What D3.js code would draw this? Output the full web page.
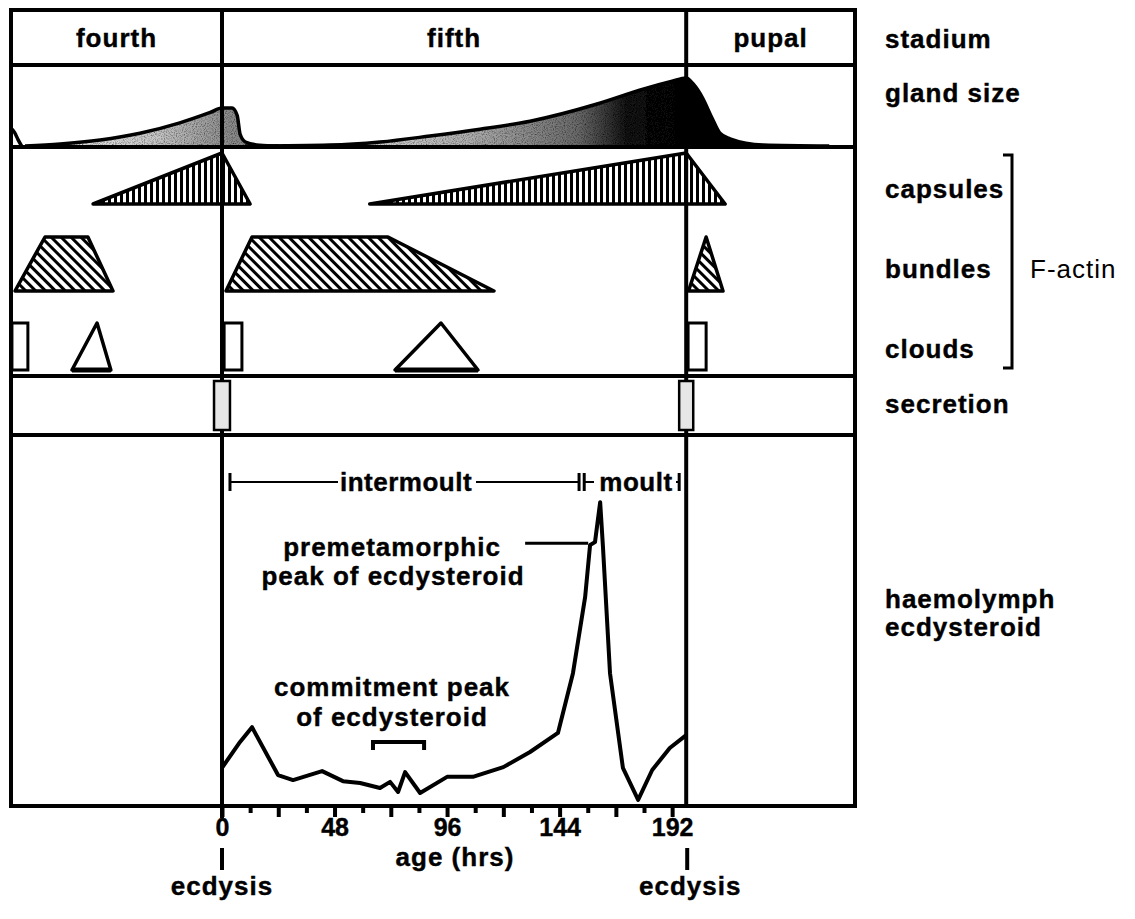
<!DOCTYPE html>
<html>
<head>
<meta charset="utf-8">
<script src="https://cdn.jsdelivr.net/npm/d3@7"></script>
<style>
  html, body { margin: 0; padding: 0; background: #fff; }
  svg text { font-family: "Liberation Sans", Arial, Helvetica, sans-serif; fill: #000; }
  svg text.b { stroke: #000; stroke-width: 0.4px; }
</style>
</head>
<body>
<svg id="chart" width="1135" height="919"></svg>
<script>
// ---------------- DATA ----------------
const stadiumNames = ["fourth", "fifth", "pupal"];
const stadiumBounds = [-90, 0, 198, 270];           // hours
const rowLabels = ["stadium", "gland size", "capsules", "bundles", "clouds", "secretion"];
const ecdysisHours = [0, 198];

// gland size (relative units 0-100)
const glandBump4 = [[-90, 22], [-88.5, 17], [-87, 8], [-85.5, 0]];
const gland4 = [[-84, 0], [-69, 2.5], [-52, 7.5], [-35, 16], [-18, 29], [-5, 42], [0, 47.5],
                [4.3, 47.5], [6.5, 38], [7.7, 15], [10, 5], [16, 1], [24, 0]];
const gland5 = [[9.8, 0], [46, 1.2], [67.4, 5], [88.7, 12.5], [110, 21], [131.4, 31], [160, 52.5],
                [179.6, 71], [192, 81], [198, 85], [201, 77.5], [205, 60], [209, 35], [212.4, 16],
                [216.7, 9], [230.8, 1.2], [259, 0]];

// F-actin shapes: [hour, level 0..1]
const capsules = [
  [[-55, 0], [0, 1], [12, 0]],
  [[63, 0], [198, 1], [214.6, 0]]
];
const bundles = [
  [[-88.3, 0], [-75.5, 1], [-57.2, 1], [-46.5, 0]],
  [[1.7, 0], [12.8, 1], [70.8, 1], [116, 0]],
  [[199, 0], [206.5, 1], [213.7, 0]]
];
const cloudRects = [[-89.6, -82.8], [0.9, 8.5], [198.8, 206.5]];   // [start, end]
const cloudTris = [[-64, -53.3, -47.4], [73.8, 93.4, 109.2]];       // [start, apex, end]
const secretion = [[-3.4, 3.4], [195, 201]];

// haemolymph ecdysteroid (relative units)
const ecdyHours  = [0, 7.7, 12.8, 23.9, 30.3, 42.7, 51.6, 58.9, 67.4, 71.7, 75.1, 78.1, 84.5, 96, 107,
                    120, 131.4, 143.3, 149.7, 154.9, 157, 159.1, 161.3, 162.5, 165.5, 171, 177.5,
                    183.5, 191, 198];
const ecdyValues = [10.6, 17.8, 21.9, 8.6, 7.2, 9.7, 6.9, 6.4, 5.0, 6.7, 3.9, 9.4, 3.6, 8.1, 8.1,
                    10.8, 15, 20.3, 36.9, 58.1, 72.5, 73.3, 84.4, 71.9, 36.9, 10.6, 1.7, 10, 16.1, 19.7];

const majorTicks = [0, 48, 96, 144, 192];
const phaseIntermoult = [3.4, 152.3];
const phaseMoult = [154.5, 195];
const commitmentWindow = [64.4, 86.2];
const premetLeader = [129.3, 156.2, 73];   // from hour, to hour, level

// ---------------- LAYOUT ----------------
const svg = d3.select("#chart");
const L = 11, R = 855, TOP = 10;
const yStadBot = 65, yGlandBot = 147, yActinBot = 376, ySecBot = 435, yAxis = 806;
const x = d3.scaleLinear().domain([-90, 270]).range([L, R]);
const gy = d3.scaleLinear().domain([0, 100]).range([146, 66]);
const capY = d3.scaleLinear().domain([0, 1]).range([204, 153]);
const bunY = d3.scaleLinear().domain([0, 1]).range([291, 237]);
const cloY = d3.scaleLinear().domain([0, 1]).range([370, 323]);
const ey = d3.scaleLinear().domain([0, 100]).range([yAxis, 446]);

const FONT = 26;

// ---------------- DEFS ----------------
const defs = svg.append("defs");
const pv = defs.append("pattern").attr("id", "vhatch").attr("patternUnits", "userSpaceOnUse")
  .attr("width", 6).attr("height", 10);
pv.append("rect").attr("width", 6).attr("height", 10).attr("fill", "#fff");
pv.append("rect").attr("x", 0).attr("width", 3).attr("height", 10).attr("fill", "#000");

const pd = defs.append("pattern").attr("id", "dhatch").attr("patternUnits", "userSpaceOnUse")
  .attr("width", 7).attr("height", 10).attr("patternTransform", "rotate(-45)");
pd.append("rect").attr("width", 7).attr("height", 10).attr("fill", "#fff");
pd.append("rect").attr("x", 0).attr("width", 3).attr("height", 10).attr("fill", "#000");

const g4 = defs.append("linearGradient").attr("id", "grad4").attr("gradientUnits", "userSpaceOnUse")
  .attr("x1", x(-80)).attr("x2", x(4)).attr("y1", 0).attr("y2", 0);
g4.append("stop").attr("offset", 0).attr("stop-color", "#f4f4f4");
g4.append("stop").attr("offset", 0.6).attr("stop-color", "#c8c8c8");
g4.append("stop").attr("offset", 1).attr("stop-color", "#8a8a8a");

const g5 = defs.append("linearGradient").attr("id", "grad5").attr("gradientUnits", "userSpaceOnUse")
  .attr("x1", x(40)).attr("x2", x(200)).attr("y1", 0).attr("y2", 0);
g5.append("stop").attr("offset", 0).attr("stop-color", "#e0e0e0");
g5.append("stop").attr("offset", 0.4).attr("stop-color", "#b0b0b0");
g5.append("stop").attr("offset", 0.7).attr("stop-color", "#6a6a6a");
g5.append("stop").attr("offset", 0.82).attr("stop-color", "#1a1a1a");
g5.append("stop").attr("offset", 1).attr("stop-color", "#000");

// stipple filter
const f = defs.append("filter").attr("id", "stipple").attr("x", 0).attr("y", 0).attr("width", 1).attr("height", 1);
f.append("feTurbulence").attr("type", "fractalNoise").attr("baseFrequency", 0.9).attr("numOctaves", 1).attr("result", "noise");
f.append("feColorMatrix").attr("in", "noise").attr("type", "matrix")
  .attr("values", "0 0 0 0 0  0 0 0 0 0  0 0 0 0 0  0 0 0 -2.2 1.25").attr("result", "dots");
f.append("feComposite").attr("in", "dots").attr("in2", "SourceGraphic").attr("operator", "in").attr("result", "dotsIn");
f.append("feMerge").call(m => { m.append("feMergeNode").attr("in", "SourceGraphic"); m.append("feMergeNode").attr("in", "dotsIn"); });

// ---------------- GLAND SIZE ----------------
const glandArea = d3.area().x(d => x(d[0])).y0(gy(0)).y1(d => gy(d[1])).curve(d3.curveMonotoneX);
const glandLine = d3.line().x(d => x(d[0])).y(d => gy(d[1])).curve(d3.curveMonotoneX);

svg.append("path").datum(gland4).attr("d", glandArea).attr("fill", "url(#grad4)").attr("filter", "url(#stipple)");
svg.append("path").datum(gland5).attr("d", glandArea).attr("fill", "url(#grad5)").attr("filter", "url(#stipple)");
[glandBump4, gland4, gland5].forEach(d => {
  svg.append("path").datum(d).attr("d", glandLine).attr("fill", "none")
    .attr("stroke", "#000").attr("stroke-width", 3.5).attr("stroke-linejoin", "round");
});

// ---------------- F-ACTIN ----------------
capsules.forEach(pts => {
  svg.append("path")
    .attr("d", d3.line().x(d => x(d[0])).y(d => capY(d[1]))(pts) + "Z")
    .attr("fill", "url(#vhatch)").attr("stroke", "#000").attr("stroke-width", 3.5)
    .attr("stroke-linejoin", "round");
});
bundles.forEach(pts => {
  svg.append("path")
    .attr("d", d3.line().x(d => x(d[0])).y(d => bunY(d[1]))(pts) + "Z")
    .attr("fill", "url(#dhatch)").attr("stroke", "#000").attr("stroke-width", 3.5)
    .attr("stroke-linejoin", "round");
});
cloudRects.forEach(r => {
  svg.append("rect").attr("x", x(r[0])).attr("y", cloY(1)).attr("width", x(r[1]) - x(r[0]))
    .attr("height", cloY(0) - cloY(1)).attr("fill", "#fff").attr("stroke", "#000").attr("stroke-width", 3);
});
cloudTris.forEach(t => {
  svg.append("path")
    .attr("d", d3.line()([[x(t[0]), cloY(0)], [x(t[1]), cloY(1)], [x(t[2]), cloY(0)]]) + "Z")
    .attr("fill", "#fff").attr("stroke", "#000").attr("stroke-width", 3.5).attr("stroke-linejoin", "round");
  svg.append("line").attr("x1", x(t[0])).attr("x2", x(t[2])).attr("y1", cloY(0)).attr("y2", cloY(0))
    .attr("stroke", "#000").attr("stroke-width", 5);
});

// ---------------- FRAME & DIVIDERS ----------------
const frame = svg.append("g").attr("stroke", "#000").attr("fill", "none");
frame.append("rect").attr("x", L).attr("y", TOP).attr("width", R - L).attr("height", yAxis - TOP).attr("stroke-width", 4);
[yStadBot, yGlandBot, yActinBot, ySecBot].forEach(yy => {
  frame.append("line").attr("x1", L).attr("x2", R).attr("y1", yy).attr("y2", yy).attr("stroke-width", 4);
});
frame.append("line").attr("x1", x(ecdysisHours[0])).attr("x2", x(ecdysisHours[0]))
  .attr("y1", TOP).attr("y2", yAxis + 12).attr("stroke-width", 4);
frame.append("line").attr("x1", x(ecdysisHours[1])).attr("x2", x(ecdysisHours[1]))
  .attr("y1", TOP).attr("y2", yAxis).attr("stroke-width", 4);

// secretion
secretion.forEach(r => {
  svg.append("rect").attr("x", x(r[0])).attr("y", yActinBot + 5).attr("width", x(r[1]) - x(r[0]))
    .attr("height", ySecBot - yActinBot - 10).attr("fill", "#e6e6e6")
    .attr("stroke", "#000").attr("stroke-width", 2.5);
});

// stadium labels
stadiumNames.forEach((n, i) => {
  svg.append("text").attr("class", "b").attr("x", (x(stadiumBounds[i]) + x(stadiumBounds[i + 1])) / 2).attr("y", 47)
    .attr("text-anchor", "middle").attr("font-size", FONT).attr("font-weight", "bold")
    .attr("letter-spacing", 1).text(n);
});

// ---------------- ECDYSTEROID CURVE ----------------
const ecdyData = ecdyHours.map((h, i) => [h, ecdyValues[i]]);
svg.append("path").datum(ecdyData)
  .attr("d", d3.line().x(d => x(d[0])).y(d => ey(d[1])))
  .attr("fill", "none").attr("stroke", "#000").attr("stroke-width", 4).attr("stroke-linejoin", "round");

// phase brackets
const yPhase = 482;
const ph = svg.append("g").attr("stroke", "#000").attr("stroke-width", 2);
ph.append("line").attr("x1", x(phaseIntermoult[0])).attr("x2", x(phaseIntermoult[1])).attr("y1", yPhase).attr("y2", yPhase);
ph.append("line").attr("x1", x(phaseMoult[0])).attr("x2", x(phaseMoult[1])).attr("y1", yPhase).attr("y2", yPhase);
[phaseIntermoult[0], phaseIntermoult[1], phaseMoult[0], phaseMoult[1]].forEach(h => {
  ph.append("line").attr("x1", x(h)).attr("x2", x(h)).attr("y1", yPhase - 9).attr("y2", yPhase + 9).attr("stroke-width", 3);
});
svg.append("rect").attr("x", 338).attr("y", yPhase - 16).attr("width", 138).attr("height", 30).attr("fill", "#fff");
svg.append("text").attr("class", "b").attr("x", 406).attr("y", yPhase + 9).attr("text-anchor", "middle")
  .attr("font-size", FONT).attr("font-weight", "bold").attr("letter-spacing", 0.5).text("intermoult");
svg.append("rect").attr("x", 594).attr("y", yPhase - 16).attr("width", 82).attr("height", 30).attr("fill", "#fff");
svg.append("text").attr("class", "b").attr("x", 636).attr("y", yPhase + 9).attr("text-anchor", "middle")
  .attr("font-size", FONT).attr("font-weight", "bold").attr("letter-spacing", 0.5).text("moult");

// annotations
const ann = (t, xx, yy) => svg.append("text").attr("class", "b").attr("x", xx).attr("y", yy).attr("text-anchor", "middle")
  .attr("font-size", FONT).attr("font-weight", "bold").attr("letter-spacing", 1).text(t);
ann("premetamorphic", 392, 556);
ann("peak of ecdysteroid", 393, 585);
ann("commitment peak", 392, 696);
ann("of ecdysteroid", 392, 726);

svg.append("line").attr("x1", x(premetLeader[0])).attr("x2", x(premetLeader[1]))
  .attr("y1", ey(premetLeader[2])).attr("y2", ey(premetLeader[2])).attr("stroke", "#000").attr("stroke-width", 3);

svg.append("path")
  .attr("d", `M${x(commitmentWindow[0])},750 V742 H${x(commitmentWindow[1])} V750`)
  .attr("fill", "none").attr("stroke", "#000").attr("stroke-width", 4);

// ---------------- AXIS ----------------
const minor = d3.range(0, 193, 12).filter(h => h % 24 !== 0);
const mid = d3.range(0, 193, 24);
svg.append("g").attr("transform", `translate(0,${yAxis})`)
  .call(d3.axisBottom(x).tickValues(minor).tickSize(7).tickFormat(""))
  .call(g => g.select(".domain").remove())
  .call(g => g.selectAll("line").attr("stroke-width", 4));
svg.append("g").attr("transform", `translate(0,${yAxis})`)
  .call(d3.axisBottom(x).tickValues(mid).tickSize(11).tickPadding(1)
    .tickFormat(h => majorTicks.includes(h) ? String(h) : ""))
  .call(g => g.select(".domain").remove())
  .call(g => g.selectAll("line").attr("stroke-width", 4))
  .call(g => g.selectAll("text").attr("class", "b").attr("font-size", 25).attr("font-weight", "bold")
    .attr("font-family", "Liberation Sans, Arial, sans-serif").attr("fill", "#000"));

svg.append("text").attr("class", "b").attr("x", 455).attr("y", 866).attr("text-anchor", "middle")
  .attr("font-size", FONT).attr("font-weight", "bold").attr("letter-spacing", 1).text("age (hrs)");

ecdysisHours.forEach((h, i) => {
  const xx = x(h) + (i === 1 ? 1 : 0);
  svg.append("line").attr("x1", xx).attr("x2", xx).attr("y1", 848).attr("y2", 870)
    .attr("stroke", "#000").attr("stroke-width", 4);
  svg.append("text").attr("class", "b").attr("x", xx + (i === 1 ? 3 : 0)).attr("y", 895).attr("text-anchor", "middle")
    .attr("font-size", FONT).attr("font-weight", "bold").attr("letter-spacing", 1).text("ecdysis");
});

// ---------------- RIGHT LABELS ----------------
const rowLabelY = [48, 102, 198, 278, 358, 413];
rowLabels.forEach((t, i) => {
  svg.append("text").attr("class", "b").attr("x", 885).attr("y", rowLabelY[i]).attr("font-size", FONT)
    .attr("font-weight", "bold").attr("letter-spacing", 1).text(t);
});
svg.append("text").attr("class", "b").attr("x", 885).attr("y", 608).attr("font-size", FONT)
  .attr("font-weight", "bold").attr("letter-spacing", 1).text("haemolymph");
svg.append("text").attr("class", "b").attr("x", 885).attr("y", 636).attr("font-size", FONT)
  .attr("font-weight", "bold").attr("letter-spacing", 1).text("ecdysteroid");

svg.append("path").attr("d", "M1003,155 H1012 V368 H1003").attr("fill", "none")
  .attr("stroke", "#000").attr("stroke-width", 3);
svg.append("text").attr("x", 1030).attr("y", 278).attr("font-size", FONT)
  .attr("letter-spacing", 1).text("F-actin");
</script>
</body>
</html>
